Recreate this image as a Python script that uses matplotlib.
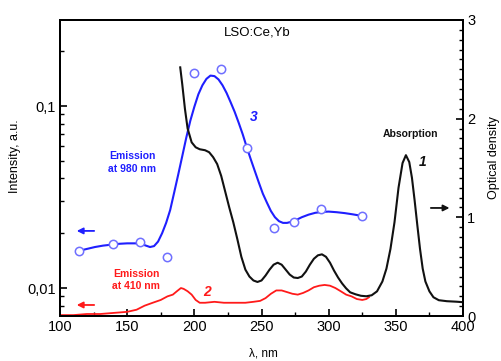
import matplotlib
matplotlib.use("Agg")
import matplotlib.pyplot as plt
from matplotlib.ticker import FixedLocator, FuncFormatter, LogLocator, MultipleLocator, NullFormatter

plt.rcParams['font.family'] = ['Liberation Sans', 'DejaVu Sans']

# Absorption (curve 1), optical density on right axis
abs_wl = [189.5, 191, 193, 195, 198, 201, 204, 208, 211, 214, 217, 220, 223, 226, 229,
          232, 235, 238, 241, 244, 247, 250, 253, 256, 259, 262, 265, 268, 271, 274,
          277, 280, 283, 286, 289, 292, 295, 298, 301, 304, 307, 310, 313, 316, 320,
          324, 328, 332, 336, 340, 343, 346, 349, 352, 355, 357.5, 360, 362, 364, 366,
          368, 370, 372, 375, 378, 382, 388, 395, 400]
abs_od = [2.52, 2.35, 2.10, 1.90, 1.76, 1.71, 1.69, 1.68, 1.66, 1.61, 1.54, 1.42, 1.26, 1.10, 0.95,
          0.78, 0.60, 0.47, 0.40, 0.36, 0.345, 0.36, 0.41, 0.47, 0.52, 0.54, 0.52, 0.47, 0.42, 0.39,
          0.385, 0.40, 0.45, 0.52, 0.58, 0.615, 0.625, 0.60, 0.54, 0.46, 0.39, 0.33, 0.28, 0.24, 0.22,
          0.205, 0.20, 0.21, 0.25, 0.35, 0.48, 0.68, 0.95, 1.30, 1.55, 1.63, 1.56, 1.40, 1.17, 0.92,
          0.68, 0.48, 0.35, 0.25, 0.19, 0.16, 0.15, 0.145, 0.14]

# Emission at 980 nm (curve 3), smooth line
em980_wl = [114, 120, 126, 132, 138, 144, 150, 156, 160, 164, 167, 170, 173, 176, 179,
            182, 185, 188, 191, 194, 197, 200, 203, 206, 209, 212, 215, 218, 221, 224,
            227, 230, 233, 236, 239, 242, 245, 248, 251, 254, 257, 260, 263, 266, 269,
            272, 276, 280, 285, 290, 295, 300, 306, 312, 318, 324.8]
em980_int = [0.0160, 0.0164, 0.0168, 0.0171, 0.0173, 0.0175, 0.0176, 0.0176, 0.0175, 0.0171,
             0.0168, 0.0170, 0.0180, 0.0200, 0.0228, 0.0268, 0.0335, 0.0420, 0.0530, 0.0670,
             0.0830, 0.0990, 0.1160, 0.1300, 0.1410, 0.1470, 0.1460, 0.1400, 0.1300, 0.1180,
             0.1050, 0.0930, 0.0810, 0.0700, 0.0595, 0.0510, 0.0440, 0.0380, 0.0330, 0.0295,
             0.0265, 0.0245, 0.0233, 0.0228, 0.0228, 0.0231, 0.0237, 0.0245, 0.0253, 0.0259,
             0.0262, 0.0263, 0.0261, 0.0258, 0.0254, 0.0249]

# Emission at 980 nm, measured points
pts_wl = [114, 139.5, 159.6, 180, 199.8, 219.9, 239.3, 259.3, 274.3, 294, 324.8]
pts_int = [0.0160, 0.0175, 0.0179, 0.0148, 0.152, 0.160, 0.0588, 0.0214, 0.0231, 0.0272, 0.0249]

# Emission at 410 nm (curve 2)
em410_wl = [100, 110, 120, 130, 140, 150, 157, 163, 169, 175, 180, 184, 187, 190, 192,
            195, 198, 201, 204, 208, 215, 222, 230, 238, 244, 249, 253, 257, 261, 265,
            269, 273, 277, 281, 285, 289, 293, 297, 301, 305, 309, 313, 317, 321, 325,
            328, 330]
em410_int = [0.0071, 0.0071, 0.0072, 0.0072, 0.0073, 0.0074, 0.0076, 0.0080, 0.0083, 0.0086,
             0.0090, 0.0092, 0.0096, 0.0100, 0.0099, 0.0096, 0.0092, 0.0086, 0.0083, 0.0083,
             0.0084, 0.0083, 0.0083, 0.0083, 0.0084, 0.0085, 0.0088, 0.0093, 0.0097, 0.0097,
             0.0095, 0.0093, 0.0092, 0.0094, 0.0097, 0.0101, 0.0103, 0.0104, 0.0103, 0.0100,
             0.0096, 0.0092, 0.0090, 0.0087, 0.0086, 0.0087, 0.0089]

BLUE = '#1f1fff'
PT_BLUE = '#6f6fff'
RED = '#ff1a1a'
BLACK = '#111111'

fig = plt.figure(figsize=(5.02, 3.61), dpi=100)
ax = fig.add_axes([60 / 502, 45 / 361, 403 / 502, 296 / 361])
ax2 = ax.twinx()

# left axis: emission intensities (log)
ax.plot(em980_wl, em980_int, color=BLUE, lw=1.5)
ax.plot(pts_wl, pts_int, 'o', ms=6, mfc='white', mec=PT_BLUE, mew=1.1)
ax.plot(em410_wl, em410_int, color=RED, lw=1.3)
ax.set_yscale('log')
ax.set_ylim(0.00702, 0.297)
ax.set_xlim(100, 400)
ax.yaxis.set_major_locator(FixedLocator([0.01, 0.1]))
ax.yaxis.set_major_formatter(FuncFormatter(lambda v, p: '0,1' if v > 0.05 else '0,01'))
ax.yaxis.set_minor_locator(LogLocator(base=10, subs=range(2, 10)))
ax.yaxis.set_minor_formatter(NullFormatter())
ax.xaxis.set_major_locator(MultipleLocator(50))
ax.xaxis.set_minor_locator(MultipleLocator(25))

# right axis: optical density
ax2.plot(abs_wl, abs_od, color=BLACK, lw=1.5)
ax2.set_ylim(0, 3)
ax2.yaxis.set_major_locator(MultipleLocator(1))
ax2.yaxis.set_minor_locator(MultipleLocator(0.1))

for a in (ax, ax2):
    a.tick_params(which='major', direction='in', length=5, width=1.2, labelsize=10.5, pad=3)
    a.tick_params(which='minor', direction='in', length=3, width=1.0)
    for s in a.spines.values():
        s.set_linewidth(1.4)

fig.text(15 / 502, 1 - 156 / 361, 'Intensity, a.u.', fontsize=9, rotation=90,
         ha='center', va='center')
fig.text(494 / 502, 1 - 158 / 361, 'Optical density', fontsize=9, rotation=90,
         ha='center', va='center')
fig.text(263 / 502, 1 - 354 / 361, 'λ, nm', fontsize=8.5, ha='center', va='center')

# annotations
ax.text(247, 0.252, 'LSO:Ce,Yb', fontsize=9.5, ha='center', va='center')
ax.text(153.6, 0.049, 'Emission\nat 980 nm', color=BLUE, fontsize=7.5, fontweight='bold',
        ha='center', va='center', linespacing=1.3)
ax.text(156.6, 0.0111, 'Emission\nat 410 nm', color=RED, fontsize=7.5, fontweight='bold',
        ha='center', va='center', linespacing=1.3)
ax.text(244.5, 0.087, '3', color=BLUE, fontsize=10, fontweight='bold', style='italic',
        ha='center', va='center')
ax.text(209.5, 0.0095, '2', color=RED, fontsize=10, fontweight='bold', style='italic',
        ha='center', va='center')
ax2.text(361, 1.84, 'Absorption', color=BLACK, fontsize=7.5, fontweight='bold',
         ha='center', va='center')
ax2.text(370, 1.56, '1', color=BLACK, fontsize=10, fontweight='bold', style='italic',
         ha='center', va='center')

arrow = dict(arrowstyle='-|>', lw=1.3, mutation_scale=9)
ax.annotate('', xy=(110.4, 0.0206), xytext=(127.5, 0.0206),
            arrowprops=dict(arrow, color=BLUE))
ax.annotate('', xy=(110.4, 0.00807), xytext=(127.5, 0.00807),
            arrowprops=dict(arrow, color=RED))
ax2.annotate('', xy=(392, 1.095), xytext=(374, 1.095),
             arrowprops=dict(arrow, color=BLACK))

fig.savefig('out.png', dpi=100)
